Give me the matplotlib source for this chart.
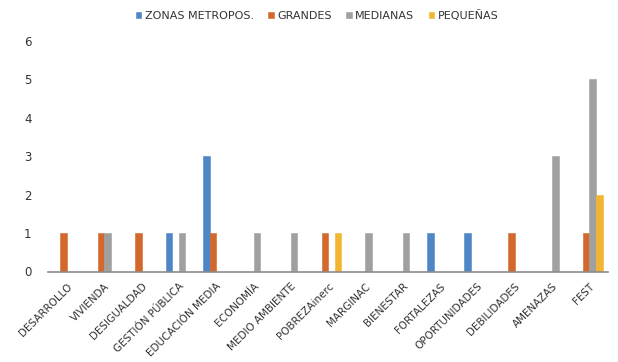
import matplotlib
matplotlib.use("Agg")
import matplotlib.pyplot as plt
import numpy as np

categories = ["DESARROLLO", "VIVIENDA", "DESIGUALDAD", "GESTIÓN PÚBLICA",
              "EDUCACIÓN MEDIA", "ECONOMÍA", "MEDIO AMBIENTE", "POBREZAinerc",
              "MARGINAC", "BIENESTAR", "FORTALEZAS", "OPORTUNIDADES",
              "DEBILIDADES", "AMENAZAS", "FEST"]
series_names = ["ZONAS METROPOS.", "GRANDES", "MEDIANAS", "PEQUEÑAS"]
zonas = [0, 0, 0, 1, 3, 0, 0, 0, 0, 0, 1, 1, 0, 0, 0]
grandes = [1, 1, 1, 0, 1, 0, 0, 1, 0, 0, 0, 0, 1, 0, 1]
medianas = [0, 1, 0, 1, 0, 1, 1, 0, 1, 1, 0, 0, 0, 3, 5]
pequenas = [0, 0, 0, 0, 0, 0, 0, 1, 0, 0, 0, 0, 0, 0, 2]
y_ticks = [0, 1, 2, 3, 4, 5, 6]

colors = ["#4F86C6", "#D2682C", "#A0A0A0", "#F2B531"]

plt.rcParams["font.family"] = ["DejaVu Sans"]

fig = plt.figure(figsize=(6.18, 3.62), dpi=100)
ax = fig.add_axes([0.078, 0.25, 0.906, 0.638])

x = np.arange(len(categories))
bw = 0.177
all_series = [zonas, grandes, medianas, pequenas]
for i, (vals, name, c) in enumerate(zip(all_series, series_names, colors)):
    ax.bar(x + (i - 1.5) * bw, vals, width=bw, color=c, label=name,
           edgecolor=c, linewidth=0.4)

ax.set_xlim(-0.5, len(categories) - 0.5)
ax.set_ylim(0, 6)
ax.set_yticks(y_ticks)
ax.set_xticks(x)
ax.set_xticklabels(categories, rotation=45, ha="right", rotation_mode="anchor",
                   fontsize=7.5, color="#333333")
ax.tick_params(axis="y", length=0, pad=12, labelsize=8.5, labelcolor="#333333")
ax.tick_params(axis="x", length=0, pad=7)
for s in ["top", "right", "left"]:
    ax.spines[s].set_visible(False)
ax.spines["bottom"].set_color("#8C8C8C")
ax.spines["bottom"].set_linewidth(1.2)

fig.legend(loc="center", bbox_to_anchor=(0.513, 0.958), ncol=4, frameon=False,
           fontsize=8, handlelength=0.5, handleheight=0.5, handletextpad=0.3,
           columnspacing=1.3, labelcolor="#333333")

fig.savefig("out.png", dpi=100)
